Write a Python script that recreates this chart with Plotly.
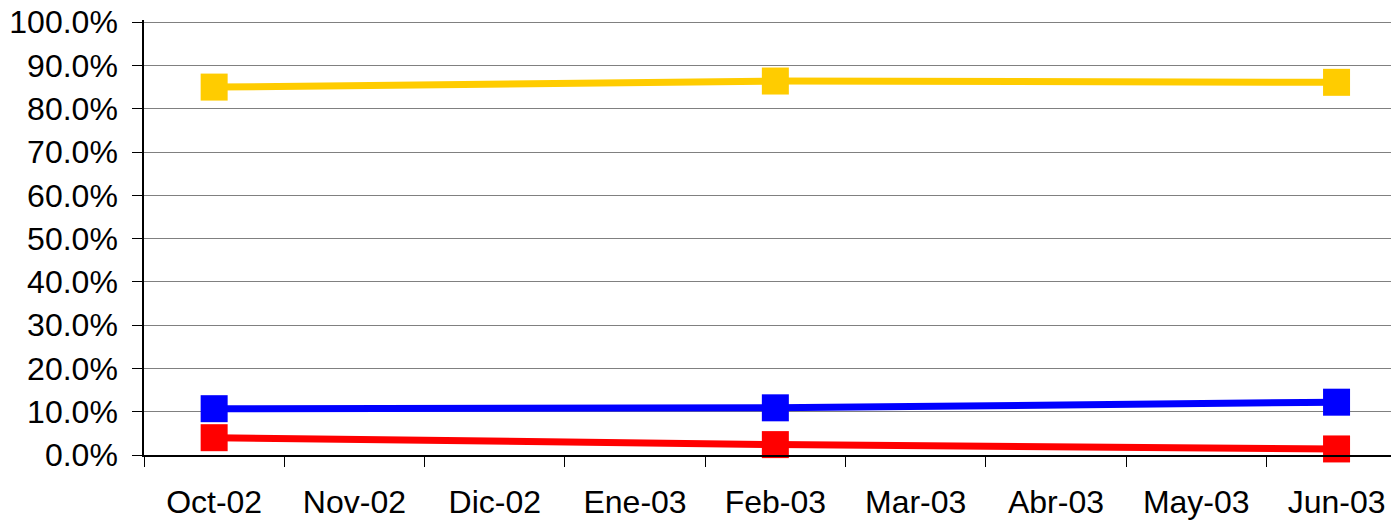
import plotly.graph_objects as go

months = ["Oct-02", "Nov-02", "Dic-02", "Ene-03", "Feb-03", "Mar-03", "Abr-03", "May-03", "Jun-03"]
yellow_vals = [0.850, None, None, None, 0.864, None, None, None, 0.861]
blue_vals = [0.107, None, None, None, 0.109, None, None, None, 0.122]
red_vals = [0.040, None, None, None, 0.024, None, None, None, 0.014]
y_ticks = [i / 10 for i in range(11)]

W, H = 1391, 523
px_per_unit = 433.5
y_top = 1.005
ml, mr, mb = 144, 0, 67.5
mt = 22 - (y_top - 1) * px_per_unit
cat_w = 140.3
x_end = -0.5 + (W - ml - mr) / cat_w

fig = go.Figure()
for vals, col in [(yellow_vals, "#FFCC00"), (blue_vals, "#0000FF"), (red_vals, "#FF0000")]:
    fig.add_trace(go.Scatter(
        x=months, y=vals, mode="lines+markers", connectgaps=True,
        line=dict(color=col, width=7),
        marker=dict(symbol="square", size=27, color=col),
        showlegend=False, cliponaxis=False, hoverinfo="skip",
    ))

fig.update_layout(
    width=W, height=H,
    margin=dict(l=ml, r=mr, t=mt, b=mb, pad=0),
    paper_bgcolor="white", plot_bgcolor="white",
    font=dict(family="Liberation Sans, Arial, sans-serif", size=32, color="black"),
    xaxis=dict(
        type="category", categoryorder="array", categoryarray=months,
        range=[-0.5, x_end], showgrid=False,
        ticks="outside", tickson="boundaries", ticklen=10, tickwidth=1.3, tickcolor="black",
        showline=True, linecolor="black", linewidth=1.5,
        ticklabelstandoff=18, zeroline=False,
    ),
    yaxis=dict(
        range=[0, y_top], tickvals=y_ticks, tickformat=".1%",
        showgrid=True, gridcolor="#808080", gridwidth=1.2,
        ticks="outside", ticklen=10, tickwidth=1.3, tickcolor="black",
        showline=True, linecolor="black", linewidth=1.5,
        zeroline=False, ticklabelstandoff=8,
    ),
)

fig.write_html(
    "out.html",
    config={"displayModeBar": False},
    post_script="document.body.style.margin='0';document.body.style.overflow='hidden';",
)
